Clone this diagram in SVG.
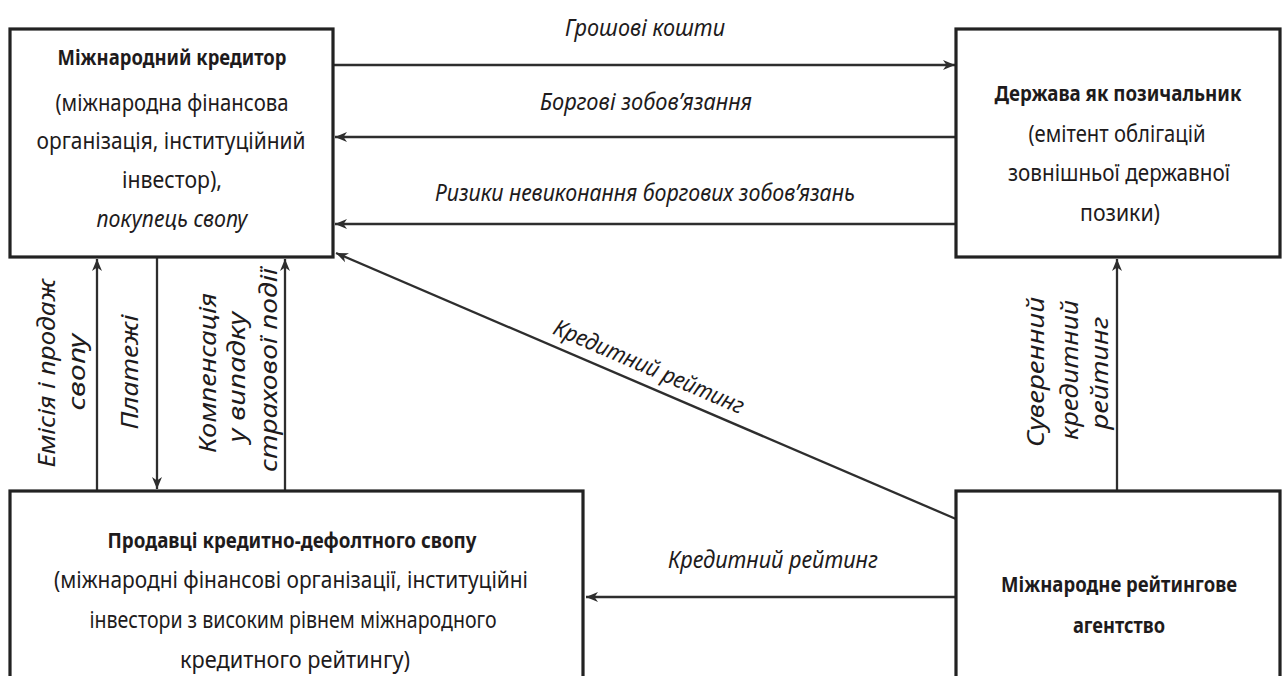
<svg xmlns="http://www.w3.org/2000/svg" width="1283" height="676" viewBox="0 0 1283 676">
<style>
.box{fill:#fff;stroke:#222;stroke-width:3.2}
.ln{fill:none;stroke:#2e2e2e;stroke-width:2.3}
text{font-family:"Noto Sans","Open Sans","Liberation Sans",sans-serif;font-size:23px;fill:#1e1b1c;text-anchor:middle}
.b{font-weight:bold;font-size:21px}
.i{font-style:italic}
</style>
<defs>
<marker id="ah" markerUnits="userSpaceOnUse" markerWidth="14" markerHeight="12" refX="12" refY="5" orient="auto" overflow="visible">
<path d="M0,0 L12,5 L0,10 L3.5,5 Z" fill="#2e2e2e"/>
</marker>
</defs>
<rect width="1283" height="676" fill="#fff"/>
<g id="connectors">
<line class="ln" x1="333" y1="65" x2="955" y2="65" marker-end="url(#ah)"/>
<line class="ln" x1="956" y1="137" x2="335" y2="137" marker-end="url(#ah)"/>
<line class="ln" x1="956" y1="224" x2="335" y2="224" marker-end="url(#ah)"/>
<line class="ln" x1="956" y1="519" x2="336" y2="253" marker-end="url(#ah)"/>
<line class="ln" x1="956" y1="597" x2="586" y2="597" marker-end="url(#ah)"/>
<line class="ln" x1="97" y1="490" x2="97" y2="259" marker-end="url(#ah)"/>
<line class="ln" x1="157" y1="258" x2="157" y2="489" marker-end="url(#ah)"/>
<line class="ln" x1="285" y1="490" x2="285" y2="259" marker-end="url(#ah)"/>
<line class="ln" x1="1117" y1="490" x2="1117" y2="259" marker-end="url(#ah)"/>
<text class="i" x="645" y="36" textLength="160" lengthAdjust="spacingAndGlyphs">Грошові кошти</text>
<text class="i" x="646" y="110" textLength="212" lengthAdjust="spacingAndGlyphs">Боргові зобов’язання</text>
<text class="i" x="645" y="201" textLength="420" lengthAdjust="spacingAndGlyphs">Ризики невиконання боргових зобов’язань</text>
<text class="i" transform="translate(646,374) rotate(23.2)" textLength="205" lengthAdjust="spacingAndGlyphs">Кредитний рейтинг</text>
<text class="i" x="773" y="568" textLength="210" lengthAdjust="spacingAndGlyphs">Кредитний рейтинг</text>
<text class="i" transform="translate(55,373) rotate(-90)" textLength="189" lengthAdjust="spacingAndGlyphs">Емісія і продаж</text>
<text class="i" transform="translate(85,372) rotate(-90)" textLength="77" lengthAdjust="spacingAndGlyphs">свопу</text>
<text class="i" transform="translate(138,372) rotate(-90)" textLength="115" lengthAdjust="spacingAndGlyphs">Платежі</text>
<text class="i" transform="translate(216,373) rotate(-90)" textLength="160" lengthAdjust="spacingAndGlyphs">Компенсація</text>
<text class="i" transform="translate(245,377) rotate(-90)" textLength="131" lengthAdjust="spacingAndGlyphs">у випадку</text>
<text class="i" transform="translate(277,370) rotate(-90)" textLength="204" lengthAdjust="spacingAndGlyphs">страхової події</text>
<text class="i" transform="translate(1044,372) rotate(-90)" textLength="150" lengthAdjust="spacingAndGlyphs">Суверенний</text>
<text class="i" transform="translate(1078,370) rotate(-90)" textLength="140" lengthAdjust="spacingAndGlyphs">кредитний</text>
<text class="i" transform="translate(1108,373) rotate(-90)" textLength="113" lengthAdjust="spacingAndGlyphs">рейтинг</text>
</g>
<g id="creditor">
<rect class="box" x="10" y="29" width="323" height="228"/>
<text class="b" x="172" y="65" textLength="229" lengthAdjust="spacingAndGlyphs">Міжнародний кредитор</text>
<text x="172" y="111" textLength="233" lengthAdjust="spacingAndGlyphs">(міжнародна фінансова</text>
<text x="171" y="149" textLength="269" lengthAdjust="spacingAndGlyphs">організація, інституційний</text>
<text x="172" y="188" textLength="100" lengthAdjust="spacingAndGlyphs">інвестор),</text>
<text class="i" x="172" y="227" textLength="151" lengthAdjust="spacingAndGlyphs">покупець свопу</text>
</g>
<g id="borrower">
<rect class="box" x="956" y="29" width="324" height="228"/>
<text class="b" x="1118" y="101" textLength="247" lengthAdjust="spacingAndGlyphs">Держава як позичальник</text>
<text x="1117" y="142" textLength="177" lengthAdjust="spacingAndGlyphs">(емітент облігацій</text>
<text x="1119" y="181" textLength="222" lengthAdjust="spacingAndGlyphs">зовнішньої державної</text>
<text x="1120" y="221" textLength="80" lengthAdjust="spacingAndGlyphs">позики)</text>
</g>
<g id="sellers">
<rect class="box" x="10" y="491" width="573" height="200"/>
<text class="b" x="292" y="548" textLength="369" lengthAdjust="spacingAndGlyphs">Продавці кредитно-дефолтного свопу</text>
<text x="291" y="588" textLength="474" lengthAdjust="spacingAndGlyphs">(міжнародні фінансові організації, інституційні</text>
<text x="293" y="628" textLength="407" lengthAdjust="spacingAndGlyphs">інвестори з високим рівнем міжнародного</text>
<text x="295" y="668" textLength="230" lengthAdjust="spacingAndGlyphs">кредитного рейтингу)</text>
</g>
<g id="agency">
<rect class="box" x="956" y="491" width="324" height="200"/>
<text class="b" x="1119" y="592" textLength="236" lengthAdjust="spacingAndGlyphs">Міжнародне рейтингове</text>
<text class="b" x="1119" y="633" textLength="92" lengthAdjust="spacingAndGlyphs">агентство</text>
</g>
</svg>
